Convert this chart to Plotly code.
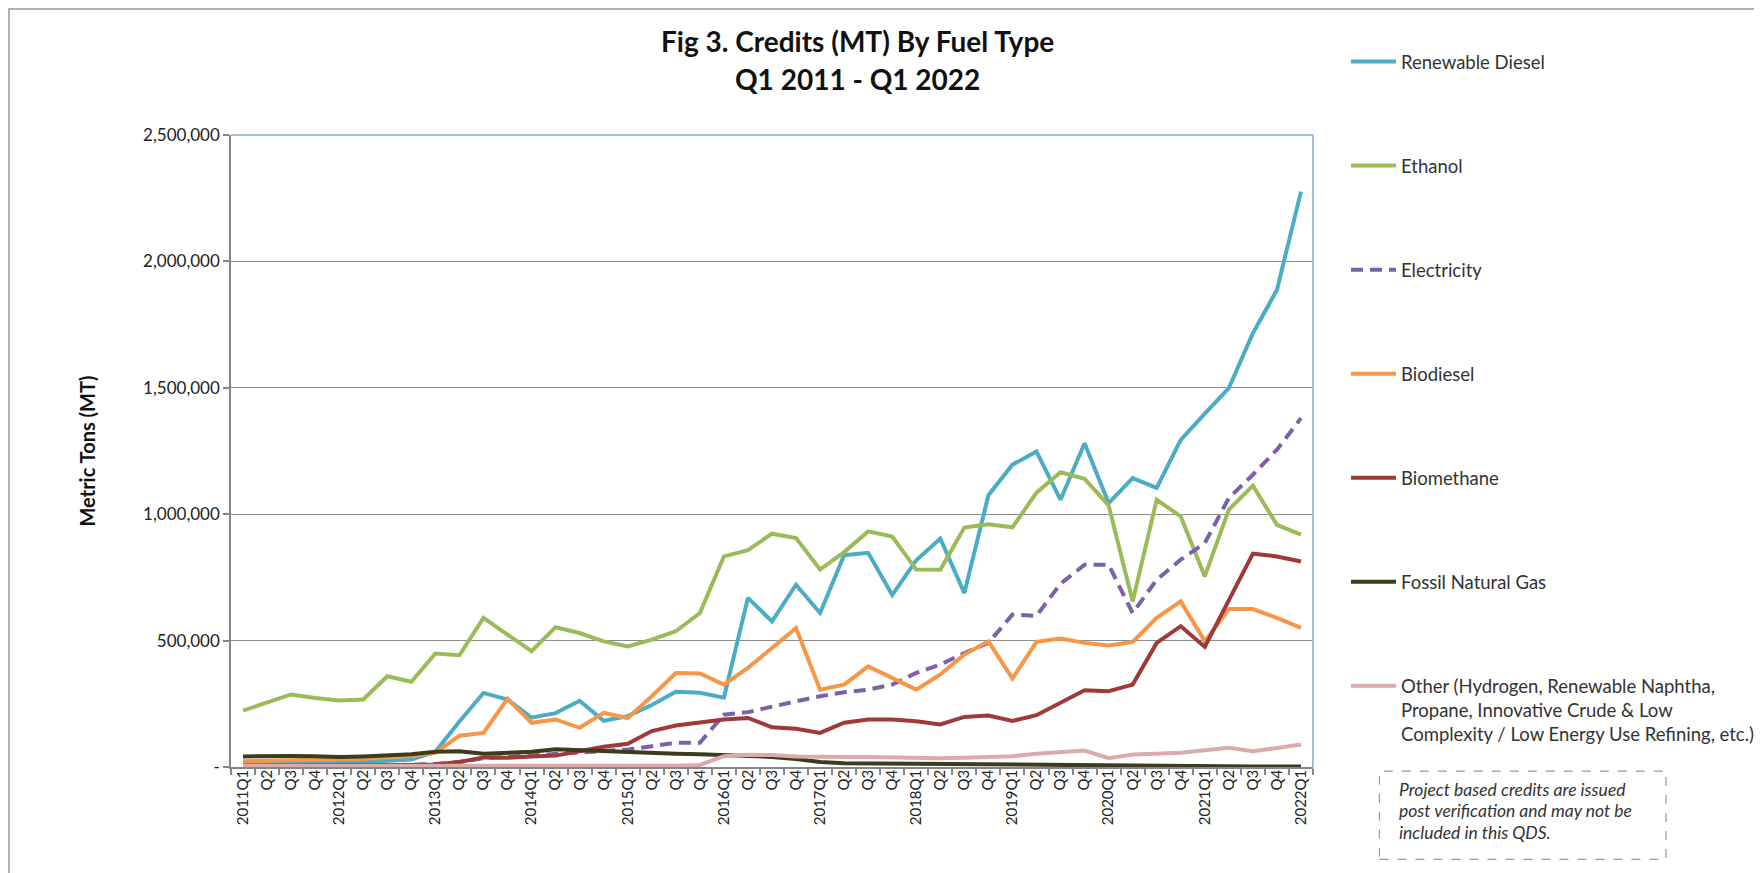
import plotly.graph_objects as go

# ---------------- data (metric tons) ----------------
quarters = ["2011Q1", "Q2", "Q3", "Q4", "2012Q1", "Q2", "Q3", "Q4",
            "2013Q1", "Q2", "Q3", "Q4", "2014Q1", "Q2", "Q3", "Q4",
            "2015Q1", "Q2", "Q3", "Q4", "2016Q1", "Q2", "Q3", "Q4",
            "2017Q1", "Q2", "Q3", "Q4", "2018Q1", "Q2", "Q3", "Q4",
            "2019Q1", "Q2", "Q3", "Q4", "2020Q1", "Q2", "Q3", "Q4",
            "2021Q1", "Q2", "Q3", "Q4", "2022Q1"]

renewable_diesel = [15000, 15000, 15000, 15000, 18000, 20000, 25000, 30000,
                    60000, 180000, 293000, 267000, 195000, 213000, 262000, 183000,
                    201000, 245000, 298000, 294000, 274000, 669000, 576000, 721000,
                    609000, 838000, 847000, 680000, 818000, 904000, 688000, 1075000,
                    1196000, 1248000, 1057000, 1281000, 1044000, 1143000, 1104000, 1294000,
                    1398000, 1499000, 1716000, 1887000, 2276000]

ethanol = [223000, 256000, 287000, 273000, 263000, 267000, 359000, 337000,
           449000, 442000, 590000, 524000, 458000, 553000, 530000, 497000,
           477000, 504000, 537000, 609000, 833000, 858000, 923000, 906000,
           781000, 850000, 932000, 912000, 781000, 780000, 947000, 960000,
           948000, 1085000, 1166000, 1140000, 1035000, 655000, 1057000, 991000,
           754000, 1018000, 1113000, 958000, 919000]

electricity = [2000, 2000, 3000, 3000, 4000, 5000, 6000, 8000,
               12000, 20000, 35000, 40000, 45000, 52000, 58000, 63000,
               69000, 82000, 96000, 96000, 207000, 217000, 240000, 260000,
               280000, 296000, 306000, 326000, 372000, 405000, 451000, 491000,
               603000, 598000, 725000, 800000, 800000, 609000, 741000, 820000,
               886000, 1064000, 1156000, 1255000, 1380000]

biodiesel = [23000, 25000, 27000, 28000, 30000, 33000, 38000, 43000,
             56000, 124000, 135000, 270000, 175000, 188000, 155000, 214000,
             194000, 280000, 372000, 370000, 326000, 392000, 471000, 550000,
             306000, 326000, 398000, 352000, 306000, 366000, 445000, 497000,
             350000, 495000, 508000, 491000, 481000, 495000, 590000, 655000,
             497000, 625000, 625000, 590000, 550000]

biomethane = [5000, 5000, 5000, 5000, 6000, 6000, 7000, 8000,
              10000, 20000, 38000, 37000, 42000, 45000, 62000, 80000,
              92000, 142000, 164000, 177000, 188000, 194000, 157000, 151000,
              135000, 175000, 188000, 188000, 181000, 168000, 198000, 204000,
              182000, 205000, 255000, 304000, 300000, 326000, 491000, 557000,
              475000, 662000, 844000, 833000, 813000]

fossil_natural_gas = [42000, 44000, 44000, 43000, 40000, 42000, 47000, 50000,
                      60000, 62000, 52000, 55000, 60000, 70000, 66000, 62000,
                      60000, 55000, 52000, 50000, 47000, 45000, 40000, 32000,
                      20000, 15000, 14000, 13000, 12000, 11000, 10000, 9000,
                      8000, 7000, 6000, 6000, 5000, 4000, 4000, 3000,
                      3000, 3000, 2000, 2000, 2000]

other = [4000, 4000, 4000, 4000, 4000, 4000, 4000, 4000,
         4000, 4000, 4000, 4000, 4000, 4000, 4000, 4000,
         5000, 5000, 5000, 8000, 43000, 48000, 47000, 42000,
         40000, 40000, 40000, 38000, 36000, 35000, 37000, 40000,
         43000, 52000, 60000, 65000, 35000, 49000, 52000, 56000,
         66000, 76000, 62000, 75000, 89000]

y_ticks = [0, 500000, 1000000, 1500000, 2000000, 2500000]
y_tick_text = ["-", "500,000", "1,000,000", "1,500,000", "2,000,000", "2,500,000"]

series = [
    ("Renewable Diesel", renewable_diesel, "#4bacc6", "solid"),
    ("Ethanol", ethanol, "#9bbb59", "solid"),
    ("Electricity", electricity, "#7b62a8", "12px,7px"),
    ("Biodiesel", biodiesel, "#f79646", "solid"),
    ("Biomethane", biomethane, "#a0393a", "solid"),
    ("Fossil Natural Gas", fossil_natural_gas, "#3b3b1e", "solid"),
    ("Other (Hydrogen, Renewable Naphtha,<br>Propane, Innovative Crude & Low<br>"
     "Complexity / Low Energy Use Refining, etc.)", other, "#ddaaab", "solid"),
]

FONT = "Lato, 'Open Sans', sans-serif"
xs = list(range(len(quarters)))

fig = go.Figure()
for name, vals, color, dash in series:
    fig.add_trace(go.Scatter(
        x=xs, y=vals, mode="lines", name=name, legendgroup=name,
        line=dict(color=color, width=4, dash=dash),
    ))

fig.update_layout(
    width=1762, height=873,
    margin=dict(l=223, r=457, t=127, b=114, autoexpand=False),
    paper_bgcolor="white", plot_bgcolor="white",
    font=dict(family=FONT, color="#222222"),
    showlegend=True,
    legend=dict(
        xref="container", yref="container",
        x=1338 / 1762, y=1 - 35 / 873, xanchor="left", yanchor="top",
        font=dict(family=FONT, size=18.5, color="#333333"),
        tracegroupgap=77, valign="top", bgcolor="rgba(0,0,0,0)",
        itemwidth=45, maxheight=840,
    ),
    xaxis=dict(
        range=[-0.5, len(quarters) - 0.5],
        tickmode="array", tickvals=xs, ticktext=quarters,
        tickangle=-90, ticks="", showgrid=False, zeroline=False,
        showline=True, linecolor="#868686", linewidth=1.5, automargin=False,
        ticklabelstandoff=-5,
        tickfont=dict(family=FONT, size=15, color="#222222"),
        minor=dict(tickmode="linear", tick0=-0.5, dtick=1, ticks="outside",
                   ticklen=6, tickcolor="#868686", tickwidth=1.5, showgrid=False),
    ),
    yaxis=dict(
        range=[0, 2500000], tickmode="array", tickvals=y_ticks, ticktext=y_tick_text,
        showgrid=True, gridcolor="#8c8c8c", gridwidth=1.2, zeroline=False,
        showline=True, linecolor="#868686", linewidth=1.5, automargin=False,
        ticks="outside", ticklen=6, tickcolor="#868686", tickwidth=1.5,
        tickfont=dict(family=FONT, size=17, color="#222222"),
        title=dict(text="<b>Metric Tons (MT)</b>", standoff=42,
                   font=dict(family=FONT, size=20, color="#111111")),
    ),
)

# plot-area top/right border (blue) and outer chart border
fig.add_shape(type="line", xref="paper", yref="paper", x0=0, x1=1, y0=1, y1=1,
              line=dict(color="#86a9d2", width=1.5))
fig.add_shape(type="line", xref="paper", yref="paper", x0=1, x1=1, y0=0, y1=1,
              line=dict(color="#86a9d2", width=1.5))
fig.add_shape(type="rect", xref="paper", yref="paper",
              x0=-0.2052, x1=1.4122, y0=-0.19, y1=1.1992,
              line=dict(color="#9a9a9a", width=1.5))

# titles
fig.add_annotation(xref="paper", yref="paper", x=0.579, y=1.1486, showarrow=False,
                   text="<b>Fig 3. Credits (MT) By Fuel Type</b>",
                   font=dict(family=FONT, size=28, color="#111111"),
                   xanchor="center", yanchor="middle")
fig.add_annotation(xref="paper", yref="paper", x=0.579, y=1.0885, showarrow=False,
                   text="<b>Q1 2011 - Q1 2022</b>",
                   font=dict(family=FONT, size=28, color="#111111"),
                   xanchor="center", yanchor="middle")

# note box
fig.add_shape(type="rect", xref="paper", yref="paper",
              x0=1.0614, x1=1.3262, y0=-0.1462, y1=-0.0064,
              line=dict(color="#999999", width=1.2, dash="dash"))
note_lines = ["Project based credits are issued",
              "post verification and may not be",
              "included in this QDS."]
for k, line in enumerate(note_lines):
    fig.add_annotation(xref="paper", yref="paper", x=1.0776,
                       y=(767.5 - (790 + 21.5 * k)) / 632.5, showarrow=False,
                       text="<i>" + line + "</i>", xanchor="left", yanchor="middle",
                       font=dict(family=FONT, size=17.5, color="#333333"))

fig.write_html("out.html")
